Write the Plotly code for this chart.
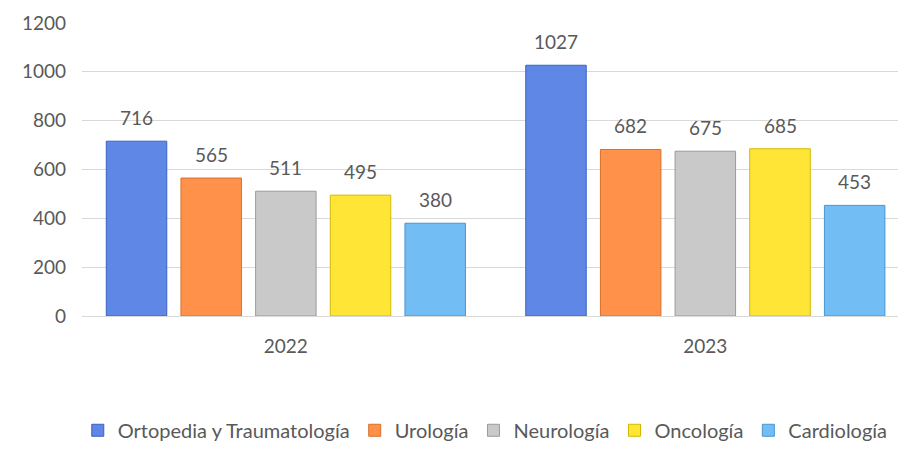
import plotly.graph_objects as go

# datos
years = ["2022", "2023"]
especialidades = ["Ortopedia y Traumatología", "Urología", "Neurología", "Oncología", "Cardiología"]
ortopedia = [716, 1027]
urologia = [565, 682]
neurologia = [511, 675]
oncologia = [495, 685]
cardiologia = [380, 453]
y_ticks = [0, 200, 400, 600, 800, 1000, 1200]

series = [ortopedia, urologia, neurologia, oncologia, cardiologia]
fills = ["#5F88E6", "#FF914A", "#C9C9C9", "#FFE536", "#72BDF4"]
edges = ["#3A62C0", "#D9702A", "#9A9A9A", "#D4B800", "#4A95D0"]

BARGAP = 0.11
GROUPGAP = 0.19
FONT = "Lato, Open Sans, sans-serif"
GREY = "#595959"
FS = 19

fig = go.Figure()
for name, vals, fc, ec in zip(especialidades, series, fills, edges):
    fig.add_trace(
        go.Bar(
            x=years,
            y=vals,
            name=name,
            marker=dict(color=fc, line=dict(color=ec, width=1)),
        )
    )

# etiquetas de datos, centradas sobre cada barra
n = len(series)
slot = (1 - BARGAP) / n
for j, vals in enumerate(series):
    for i, v in enumerate(vals):
        fig.add_annotation(
            x=i - (1 - BARGAP) / 2 + slot * (j + 0.5),
            y=v,
            yshift=10,
            yanchor="bottom",
            text=str(v),
            showarrow=False,
            font=dict(size=FS, color=GREY, family=FONT),
        )

fig.update_layout(
    width=906,
    height=449,
    barmode="group",
    bargap=BARGAP,
    bargroupgap=GROUPGAP,
    plot_bgcolor="white",
    paper_bgcolor="white",
    margin=dict(l=74, r=9, t=15, b=141, autoexpand=False),
    font=dict(family=FONT, size=FS, color=GREY),
    legend=dict(
        orientation="h",
        x=0.49,
        xanchor="center",
        y=-0.39,
        yanchor="middle",
        itemwidth=30,
        font=dict(size=20, color=GREY),
        traceorder="normal",
    ),
    xaxis=dict(
        range=[-0.486, 1.476],
        showgrid=False,
        showline=True,
        linecolor="#D9D9D9",
        linewidth=1,
        ticks="",
        ticklabelstandoff=13,
        tickfont=dict(size=FS, color=GREY),
    ),
    yaxis=dict(
        range=[0, 1200],
        tickvals=y_ticks,
        showgrid=True,
        gridcolor="#D9D9D9",
        gridwidth=1,
        zeroline=False,
        ticks="",
        ticklabelstandoff=15,
        tickfont=dict(size=FS, color=GREY),
    ),
)

fig.write_html("out.html")
